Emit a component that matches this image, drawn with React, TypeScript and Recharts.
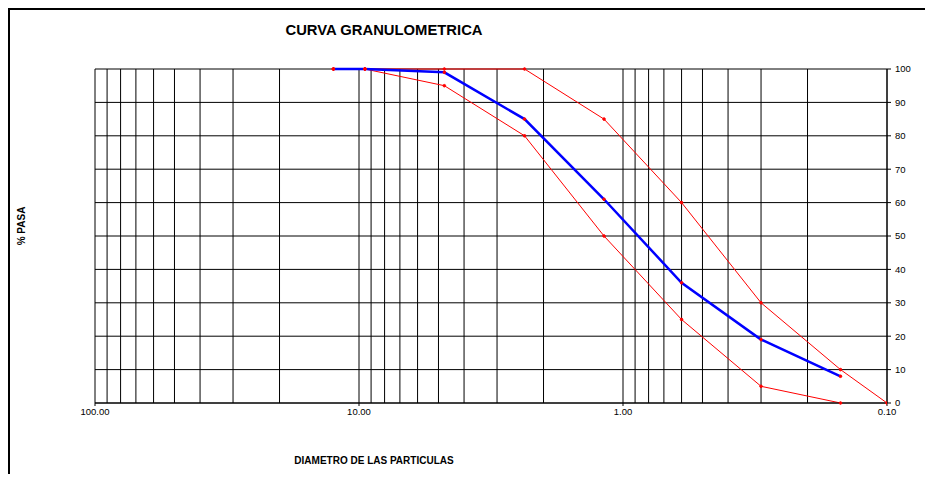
import React from "react";
import { LineChart, Line, XAxis, YAxis, CartesianGrid, ReferenceLine } from "recharts";

const sieveSizes = [12.5, 9.5, 4.75, 2.36, 1.18, 0.6, 0.3, 0.15];
const passing = [100, 100, 99, 85, 61, 36, 19, 8];
const lowerLimit = [100, 100, 95, 80, 50, 25, 5, 0];
const upperSizes = [12.5, 9.5, 4.75, 2.36, 1.18, 0.6, 0.3, 0.15, 0.1];
const upperLimit = [100, 100, 100, 100, 85, 60, 30, 10, 0];

const xTicks = [100, 10, 1, 0.1];
const yTicks = [0, 10, 20, 30, 40, 50, 60, 70, 80, 90, 100];
const xGrid = [
  100, 90, 80, 70, 60, 50, 40, 30, 20, 10,
  9, 8, 7, 6, 5, 4, 3, 2, 1,
  0.9, 0.8, 0.7, 0.6, 0.5, 0.4, 0.3, 0.2, 0.1,
];

const toPoints = (xs: number[], ys: number[]) => xs.map((x, i) => ({ x, y: ys[i] }));

const sampleData = toPoints(sieveSizes, passing);
const lowerData = toPoints(sieveSizes, lowerLimit);
const upperData = toPoints(upperSizes, upperLimit);

const font = '"Liberation Sans", Arial, sans-serif';

export default function App() {
  return (
    <div
      style={{
        position: "relative",
        width: 925,
        height: 466,
        borderTop: "2px solid #000",
        borderLeft: "2px solid #000",
        boxSizing: "border-box",
        fontFamily: font,
        background: "#fff",
      }}
    >
      <div
        style={{
          position: "absolute",
          left: 374,
          top: 20,
          transform: "translate(-50%, -50%)",
          fontWeight: "bold",
          fontSize: 14.8,
          whiteSpace: "nowrap",
          color: "#000",
        }}
      >
        CURVA GRANULOMETRICA
      </div>
      <div
        style={{
          position: "absolute",
          left: 11,
          top: 216,
          transform: "translate(-50%, -50%) rotate(-90deg)",
          fontWeight: "bold",
          fontSize: 10,
          whiteSpace: "nowrap",
          color: "#000",
        }}
      >
        % PASA
      </div>
      <div
        style={{
          position: "absolute",
          left: 364,
          top: 450,
          transform: "translate(-50%, -50%)",
          fontWeight: "bold",
          fontSize: 10,
          whiteSpace: "nowrap",
          color: "#000",
        }}
      >
        DIAMETRO DE LAS PARTICULAS
      </div>
      <div style={{ position: "absolute", left: 0, top: 0 }}>
        <LineChart
          width={923}
          height={456}
          margin={{ top: 59, left: 85, right: 6, bottom: 33 }}
        >
          <CartesianGrid vertical={false} stroke="#000" strokeDasharray="" />
          {xGrid.map((v) => (
            <ReferenceLine key={v} x={v} stroke="#000" strokeWidth={1} />
          ))}
          <XAxis
            type="number"
            dataKey="x"
            scale="log"
            domain={[0.1, 100]}
            reversed
            allowDataOverflow
            ticks={xTicks}
            tickFormatter={(v: number) => v.toFixed(2)}
            tick={{ fontSize: 9.5, fill: "#000", fontFamily: font }}
            tickSize={3}
            axisLine={{ stroke: "#000" }}
            tickLine={{ stroke: "#000" }}
            height={30}
          />
          <YAxis
            type="number"
            orientation="right"
            domain={[0, 100]}
            ticks={yTicks}
            tick={{ fontSize: 9.5, fill: "#000", fontFamily: font, textAnchor: "start" }}
            tickSize={4}
            tickMargin={4}
            axisLine={{ stroke: "#000" }}
            tickLine={{ stroke: "#000" }}
            width={40}
          />
          <Line
            data={upperData}
            dataKey="y"
            stroke="#ff0000"
            strokeWidth={1}
            dot={{ r: 1.3, fill: "#ff0000", stroke: "#ff0000", strokeWidth: 1 }}
            isAnimationActive={false}
          />
          <Line
            data={lowerData}
            dataKey="y"
            stroke="#ff0000"
            strokeWidth={1}
            dot={{ r: 1.3, fill: "#ff0000", stroke: "#ff0000", strokeWidth: 1 }}
            isAnimationActive={false}
          />
          <Line
            data={sampleData}
            dataKey="y"
            stroke="#0000ff"
            strokeWidth={2.5}
            dot={{ r: 1.3, fill: "#ff0000", stroke: "#ff0000", strokeWidth: 1 }}
            isAnimationActive={false}
          />
        </LineChart>
      </div>
    </div>
  );
}
